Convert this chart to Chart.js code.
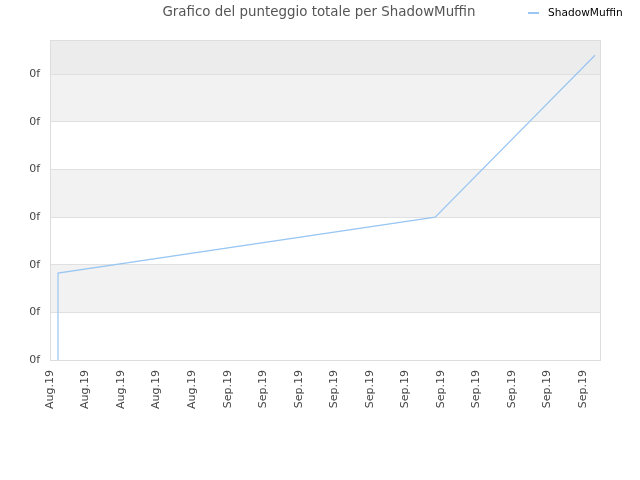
<!DOCTYPE html>
<html>
<head>
<meta charset="utf-8">
<script src="https://cdn.jsdelivr.net/npm/chart.js@4/dist/chart.umd.min.js"></script>
<style>
  html, body { margin: 0; padding: 0; background: #fff; }
  #chart { display: block; }
</style>
</head>
<body>
<canvas id="chart" width="640" height="480"></canvas>
<script>
const TITLE = 'Grafico del punteggio totale per ShadowMuffin';
const SERIES_NAME = 'ShadowMuffin';
const xTickLabels = ['Aug.19', 'Aug.19', 'Aug.19', 'Aug.19', 'Aug.19',
  'Sep.19', 'Sep.19', 'Sep.19', 'Sep.19', 'Sep.19', 'Sep.19',
  'Sep.19', 'Sep.19', 'Sep.19', 'Sep.19', 'Sep.19'];
const yTickLabel = '0f';
const xValues = [0.225, 0.225, 0.225, 0.225, 0.225, 0.225, 10.84, 15.34];
const yValues = [0, 0.21, 0.40, 0.80, 1.20, 1.825, 3.0, 6.40];

const X_MAX = 15.48;
const Y_MAX = 6.72;
const LINE_COLOR = '#99c6f2';
const FONT = "'DejaVu Sans', Verdana, sans-serif";

// alternating bands behind the plot, with a darker top strip
const bandsPlugin = {
  id: 'bands',
  beforeDraw(chart) {
    const { ctx, chartArea, scales } = chart;
    const y = scales.y;
    ctx.save();
    for (let i = 0; i < 7; i++) {
      const top = y.getPixelForValue(Math.min(i + 1, Y_MAX));
      const bottom = y.getPixelForValue(i);
      let fill = null;
      if (i === 6) fill = '#ececec';
      else if (i % 2 === 1) fill = '#f2f2f2';
      if (fill) {
        ctx.fillStyle = fill;
        ctx.fillRect(chartArea.left, top, chartArea.right - chartArea.left, bottom - top);
      }
    }
    ctx.restore();
  },
  afterDraw(chart) {
    const { ctx, chartArea } = chart;
    ctx.save();
    ctx.strokeStyle = '#dddddd';
    ctx.lineWidth = 1;
    ctx.strokeRect(chartArea.left + 0.5, chartArea.top + 0.5,
      chartArea.right - chartArea.left, chartArea.bottom - chartArea.top);

    // title
    ctx.fillStyle = '#555555';
    ctx.font = '13.4px ' + FONT;
    ctx.textAlign = 'center';
    ctx.textBaseline = 'middle';
    ctx.fillText(TITLE, 319, 12.5);

    // legend
    ctx.strokeStyle = LINE_COLOR;
    ctx.lineWidth = 2;
    ctx.beginPath();
    ctx.moveTo(528, 13);
    ctx.lineTo(539, 13);
    ctx.stroke();
    ctx.fillStyle = '#000000';
    ctx.font = '10.6px ' + FONT;
    ctx.textAlign = 'left';
    ctx.fillText(SERIES_NAME, 548, 13);
    ctx.restore();
  }
};

new Chart(document.getElementById('chart'), {
  type: 'line',
  data: {
    datasets: [{
      label: SERIES_NAME,
      data: xValues.map((x, i) => ({ x, y: yValues[i] })),
      borderColor: LINE_COLOR,
      borderWidth: 1.2,
      pointRadius: 0,
      tension: 0,
      fill: false,
    }],
  },
  options: {
    responsive: false,
    animation: false,
    layout: { padding: { left: 0, top: 40, right: 40, bottom: 0 } },
    plugins: {
      legend: { display: false },
      title: { display: false },
      tooltip: { enabled: false },
    },
    scales: {
      x: {
        type: 'linear',
        min: 0,
        max: X_MAX,
        grid: { display: false, drawTicks: false },
        border: { display: false },
        afterBuildTicks(scale) {
          scale.ticks = xTickLabels.map((_, i) => ({ value: i }));
        },
        afterFit(scale) { scale.height = 120; },
        ticks: {
          minRotation: 90,
          maxRotation: 90,
          padding: 10,
          autoSkip: false,
          color: '#444444',
          font: { family: FONT, size: 11 },
          callback: (value, index) => xTickLabels[index],
        },
      },
      y: {
        min: 0,
        max: Y_MAX,
        grid: { color: '#e0e0e0', drawTicks: false },
        border: { display: false },
        afterBuildTicks(scale) {
          scale.ticks = [0, 1, 2, 3, 4, 5, 6].map((v) => ({ value: v }));
        },
        afterFit(scale) { scale.width = 50; },
        ticks: {
          padding: 10,
          color: '#444444',
          font: { family: FONT, size: 11 },
          callback: () => yTickLabel,
        },
      },
    },
  },
  plugins: [bandsPlugin],
});
</script>
</body>
</html>
